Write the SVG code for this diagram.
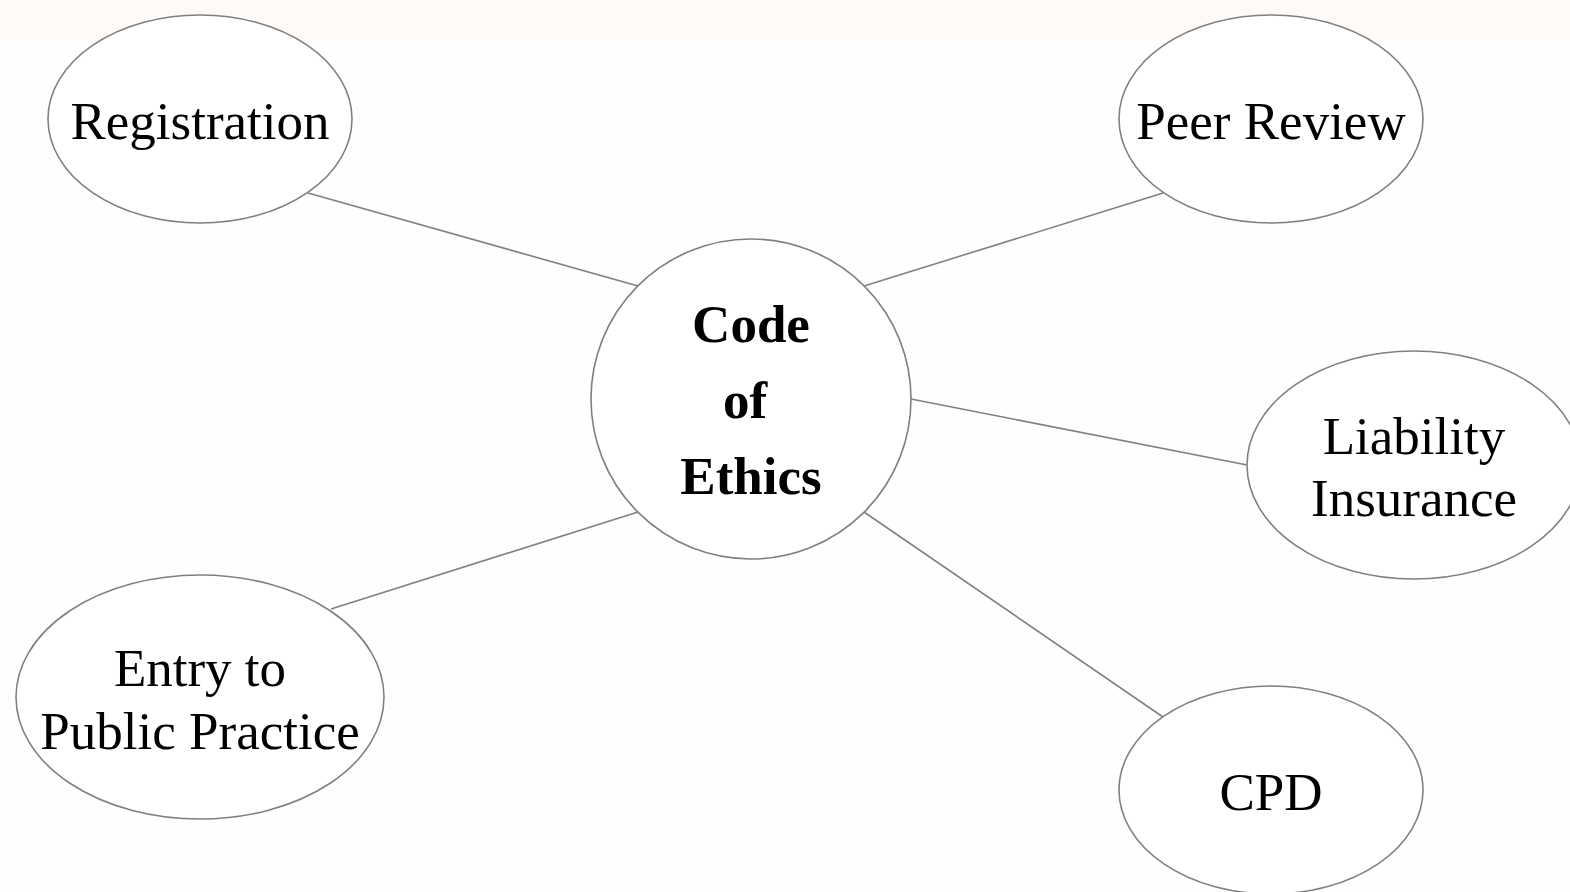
<svg xmlns="http://www.w3.org/2000/svg" width="1570" height="892" viewBox="0 0 1570 892">
<style>
.n{fill:#ffffff;stroke:#808080;stroke-width:1.6}
.e{stroke:#808080;stroke-width:1.6;fill:none}
.t{font-family:"Liberation Serif","Times New Roman",serif;font-size:53px;fill:#000;text-anchor:middle}
.b{font-weight:bold}
</style>
<rect x="0" y="0" width="1570" height="892" fill="#fefefe"/>
<rect x="0" y="0" width="1570" height="41" fill="#fdfaf7"/>
<g transform="translate(1,1)">
<g id="connectors">
<line class="e" x1="307" y1="192" x2="637" y2="285"/>
<line class="e" x1="1162" y1="192" x2="863" y2="285"/>
<line class="e" x1="910" y1="398" x2="1246" y2="464"/>
<line class="e" x1="330" y1="608" x2="637" y2="511"/>
<line class="e" x1="863" y1="511" x2="1162" y2="716"/>
</g>
<g id="registration">
<ellipse class="n" cx="199" cy="118" rx="152" ry="104"/>
<text class="t" x="199" y="138">Registration</text>
</g>
<g id="peer-review">
<ellipse class="n" cx="1270" cy="118" rx="152" ry="104"/>
<text class="t" x="1270" y="138">Peer Review</text>
</g>
<g id="code-of-ethics">
<circle class="n" cx="750" cy="398" r="160"/>
<text class="t b" x="750" y="341">Code</text>
<text class="t b" x="744" y="417">of</text>
<text class="t b" x="750" y="493">Ethics</text>
</g>
<g id="liability-insurance">
<ellipse class="n" cx="1413" cy="464" rx="167" ry="114"/>
<text class="t" x="1413" y="453">Liability</text>
<text class="t" x="1413" y="515">Insurance</text>
</g>
<g id="entry-to-public-practice">
<ellipse class="n" cx="199" cy="696" rx="184" ry="122"/>
<text class="t" x="199" y="685">Entry to</text>
<text class="t" x="199" y="748">Public Practice</text>
</g>
<g id="cpd">
<ellipse class="n" cx="1270" cy="789" rx="152" ry="104"/>
<text class="t" x="1270" y="809">CPD</text>
</g>
</g>
</svg>
